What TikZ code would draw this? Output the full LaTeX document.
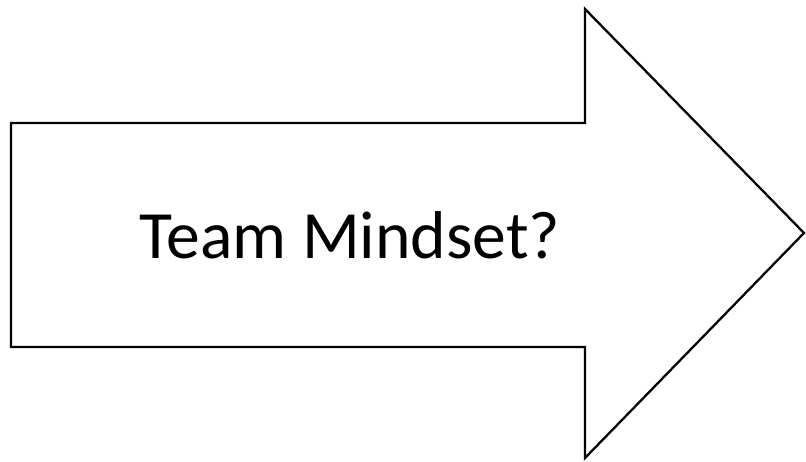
\documentclass[tikz,border=0pt]{standalone}
\usepackage{fontspec}
\setmainfont{Carlito}
\begin{document}
\begin{tikzpicture}[x=0.02cm,y=-0.02cm]

    \tikzset{
      blockarrow/.style={
        draw=black,
        line width=1.3pt,
        line join=miter,
      },
      label/.style={
        font=\fontsize{38.5}{46}\selectfont,
        inner sep=0pt,
      },
    }
    \useasboundingbox (0,0) rectangle (806,462);

	% shaft and head of the arrow
	\draw[blockarrow] (11,123)--(585,123)--(585,9)--(804,233)--(585,458)--(585,347)--(11,347)--cycle;
	\node[label] (mindset) at (350,235) {Team Mindset?};

\end{tikzpicture}
\end{document}
